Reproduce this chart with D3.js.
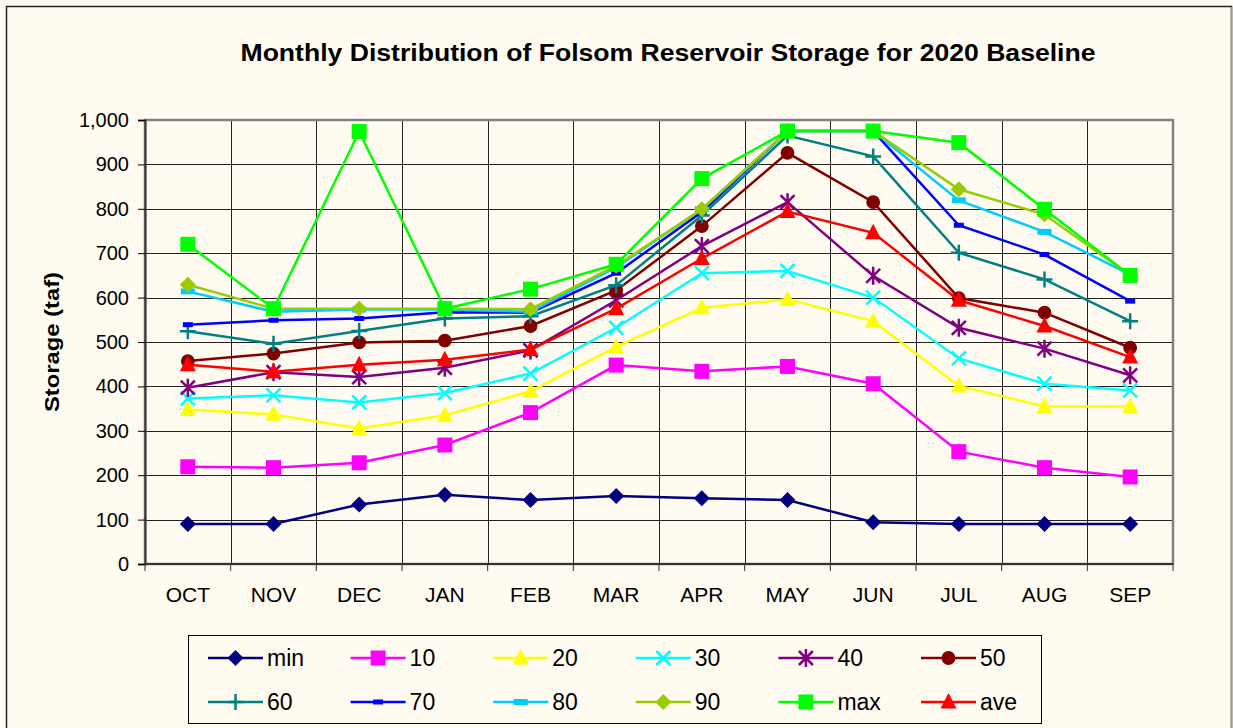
<!DOCTYPE html>
<html>
<head>
<meta charset="utf-8">
<script src="https://cdn.jsdelivr.net/npm/d3@7"></script>
<style>
  body { margin: 0; background: #fff; }
  text { font-family: "Liberation Sans", Arial, sans-serif; }
</style>
</head>
<body>
<div id="chart"></div>
<script>
// data (taf)
var months = ["OCT", "NOV", "DEC", "JAN", "FEB", "MAR", "APR", "MAY", "JUN", "JUL", "AUG", "SEP"];
var yTicks = [0, 100, 200, 300, 400, 500, 600, 700, 800, 900, 1000];
var seriesNames = ["min", "10", "20", "30", "40", "50", "60", "70", "80", "90", "max", "ave"];

var minVals = [90, 90, 134, 156, 144, 153, 148, 144, 94, 90, 90, 90];
var p10 = [219, 217, 228, 268, 341, 448, 434, 445, 406, 253, 217, 196];
var p20 = [348, 337, 305, 335, 389, 489, 577, 596, 547, 401, 355, 355];
var p30 = [373, 380, 364, 385, 429, 532, 655, 660, 600, 463, 406, 391];
var p40 = [397, 432, 421, 442, 481, 594, 716, 815, 649, 532, 485, 425];
var p50 = [457, 474, 499, 503, 536, 616, 761, 926, 815, 599, 566, 487];
var p60 = [524, 496, 525, 553, 558, 628, 785, 965, 918, 701, 641, 547];
var p70 = [539, 549, 553, 567, 566, 655, 793, 975, 975, 763, 697, 592];
var p80 = [614, 568, 573, 573, 568, 668, 799, 975, 975, 819, 748, 652];
var p90 = [629, 575, 575, 575, 574, 672, 799, 975, 975, 844, 787, 650];
var maxVals = [720, 575, 974, 575, 619, 675, 868, 975, 975, 949, 799, 650];
var aveVals = [449, 433, 449, 460, 483, 575, 688, 794, 746, 594, 536, 466];

var allValues = [minVals, p10, p20, p30, p40, p50, p60, p70, p80, p90, maxVals, aveVals];
var colors = ["#000080", "#FF00FF", "#FFFF00", "#00FFFF", "#800080", "#800000",
              "#008080", "#0000FF", "#00CCFF", "#99CC00", "#00FF00", "#FF0000"];
var markers = ["diamond", "square", "triangle", "x", "star", "circle",
               "plus", "dash", "wdash", "diamond", "square", "triangle"];

var W = 1233, H = 728;
var plot = {left: 145, right: 1173, top: 120, bottom: 564};

var svg = d3.select("#chart").append("svg")
    .attr("width", W)
    .attr("height", H);

svg.append("rect").attr("width", W).attr("height", H).attr("fill", "#FFFBF0");
// chart border
svg.append("path").attr("d", "M6.5,740V6.5H1231.5V740")
    .attr("fill", "none").attr("stroke", "#222").attr("stroke-width", 1.5);
svg.append("line").attr("x1", 1231.5).attr("x2", 1231.5).attr("y1", 7).attr("y2", 740)
    .attr("stroke", "#999").attr("stroke-width", 1.5);

var x = d3.scaleBand().domain(months).range([plot.left, plot.right]);
var y = d3.scaleLinear().domain([0, 1000]).range([plot.bottom, plot.top]);

// title
svg.append("text")
    .attr("x", 668).attr("y", 61)
    .attr("text-anchor", "middle")
    .attr("textLength", 855).attr("lengthAdjust", "spacingAndGlyphs")
    .style("font-size", "23px").style("font-weight", "bold")
    .text("Monthly Distribution of Folsom Reservoir Storage for 2020 Baseline");

// y label
svg.append("text")
    .attr("transform", "translate(59,342) rotate(-90)")
    .attr("text-anchor", "middle")
    .attr("textLength", 140).attr("lengthAdjust", "spacingAndGlyphs")
    .style("font-size", "21px").style("font-weight", "bold")
    .text("Storage (taf)");

// gridlines
var grid = svg.append("g");
grid.selectAll(".hg").data(yTicks).enter().append("line")
    .attr("x1", plot.left).attr("x2", plot.right)
    .attr("y1", function(d) { return Math.round(y(d)) + 0.5; })
    .attr("y2", function(d) { return Math.round(y(d)) + 0.5; })
    .attr("stroke", "#222").attr("stroke-width", 1);
grid.selectAll(".vg").data(months.slice(1)).enter().append("line")
    .attr("x1", function(d) { return Math.round(x(d)) + 0.5; })
    .attr("x2", function(d) { return Math.round(x(d)) + 0.5; })
    .attr("y1", plot.top).attr("y2", plot.bottom)
    .attr("stroke", "#222").attr("stroke-width", 1);

svg.append("rect")
    .attr("x", plot.left).attr("y", plot.top)
    .attr("width", plot.right - plot.left).attr("height", plot.bottom - plot.top)
    .attr("fill", "none").attr("stroke", "#808080").attr("stroke-width", 2.5);

// y axis
var yAxis = svg.append("g")
    .attr("transform", "translate(" + plot.left + ",0)")
    .call(d3.axisLeft(y).tickValues(yTicks).tickSize(7).tickPadding(9).tickFormat(d3.format(",")));
yAxis.select(".domain").attr("stroke", "#333").attr("stroke-width", 2);
yAxis.selectAll("text").style("font-size", "20px").attr("fill", "#000");

// x axis: ticks at category boundaries, labels centred
var xAxis = svg.append("g").attr("transform", "translate(0," + plot.bottom + ")");
xAxis.append("line").attr("x1", plot.left).attr("x2", plot.right)
    .attr("stroke", "#333").attr("stroke-width", 2);
xAxis.selectAll(".xt").data(months.concat(["end"])).enter().append("line")
    .attr("x1", function(d, i) { return plot.left + i * x.bandwidth(); })
    .attr("x2", function(d, i) { return plot.left + i * x.bandwidth(); })
    .attr("y1", 0).attr("y2", 7)
    .attr("stroke", "#333").attr("stroke-width", 1);
xAxis.selectAll(".xl").data(months).enter().append("text")
    .attr("x", function(d) { return x(d) + x.bandwidth() / 2; })
    .attr("y", 38)
    .attr("text-anchor", "middle")
    .style("font-size", "21px")
    .text(function(d) { return d; });

function markerPath(type) {
    switch (type) {
        case "diamond": return "M0,-8L8,0L0,8L-8,0Z";
        case "square": return "M-7.5,-7.5H7.5V7.5H-7.5Z";
        case "triangle": return "M0,-9L8,6.5H-8Z";
        case "circle": return d3.symbol(d3.symbolCircle, 150)();
        case "x": return "M-7,-7L7,7M-7,7L7,-7";
        case "star": return "M-7,-7L7,7M-7,7L7,-7M0,-9V9";
        case "plus": return "M-8,0H8M0,-8V8";
        case "dash": return "M-5,-2.5H5V2.5H-5Z";
        case "wdash": return "M-7,-3H7V3H-7Z";
    }
}
function isStroke(type) { return type === "x" || type === "star" || type === "plus"; }

var line = d3.line()
    .x(function(d, i) { return x(months[i]) + x.bandwidth() / 2; })
    .y(function(d) { return y(d); });

var series = svg.append("g").selectAll("g").data(allValues).enter().append("g");
series.append("path")
    .attr("d", function(d) { return line(d); })
    .attr("fill", "none")
    .attr("stroke", function(d, i) { return colors[i]; })
    .attr("stroke-width", 2.5);
series.each(function(vals, si) {
    d3.select(this).selectAll(".m").data(vals).enter().append("path")
        .attr("transform", function(d, i) {
            return "translate(" + (x(months[i]) + x.bandwidth() / 2) + "," + y(d) + ")";
        })
        .attr("d", markerPath(markers[si]))
        .attr("fill", isStroke(markers[si]) ? "none" : colors[si])
        .attr("stroke", isStroke(markers[si]) ? colors[si] : "none")
        .attr("stroke-width", 2.5);
});

// legend
var legend = svg.append("g");
legend.append("rect")
    .attr("x", 188.5).attr("y", 635.5).attr("width", 853).attr("height", 88)
    .attr("fill", "none").attr("stroke", "#000").attr("stroke-width", 1);
var items = legend.selectAll(".li").data(seriesNames).enter().append("g")
    .attr("transform", function(d, i) {
        return "translate(" + (208 + (i % 6) * 142.6) + "," + (658 + Math.floor(i / 6) * 44) + ")";
    });
items.append("line").attr("x1", 0).attr("x2", 55)
    .attr("stroke", function(d, i) { return colors[i]; }).attr("stroke-width", 2.5);
items.append("path")
    .attr("transform", "translate(27.5,0)")
    .attr("d", function(d, i) { return markerPath(markers[i]); })
    .attr("fill", function(d, i) { return isStroke(markers[i]) ? "none" : colors[i]; })
    .attr("stroke", function(d, i) { return isStroke(markers[i]) ? colors[i] : "none"; })
    .attr("stroke-width", 2.5);
items.append("text")
    .attr("x", 59).attr("y", 8)
    .style("font-size", "23px")
    .text(function(d) { return d; });
</script>
</body>
</html>
